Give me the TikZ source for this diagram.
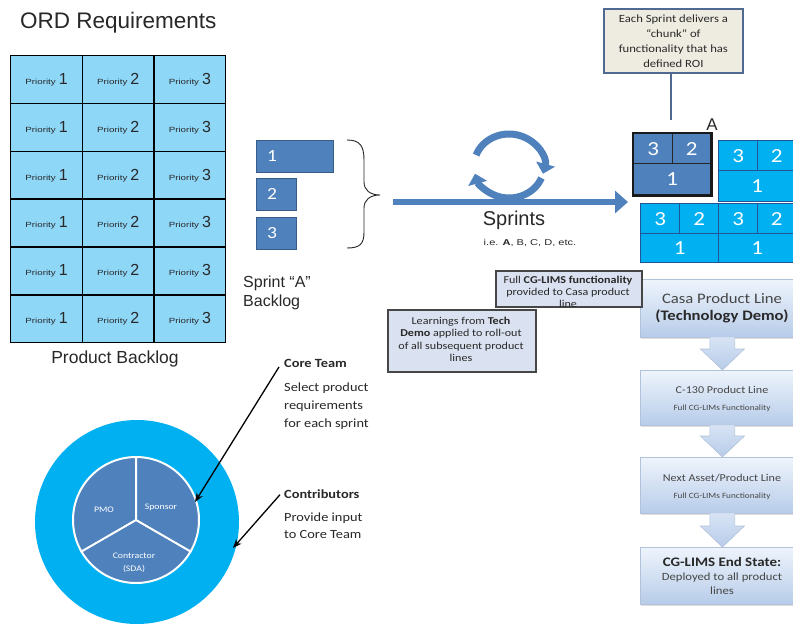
\documentclass[tikz,border=0pt]{standalone}
\usepackage{fontspec}
\setmainfont{Liberation Sans}
\newfontfamily\widesans[FakeStretch=1.3]{Liberation Sans}
\newfontfamily\cali[FakeStretch=1.15]{Carlito}
\usetikzlibrary{arrows.meta,calc,shadows,fit}
\definecolor{gridblue}{RGB}{142,215,247}
\definecolor{steel}{RGB}{79,129,189}
\definecolor{steeldark}{RGB}{56,93,138}
\definecolor{cyanblue}{RGB}{0,176,240}
\definecolor{cellline}{RGB}{35,85,150}
\definecolor{notebeige}{RGB}{238,236,225}
\definecolor{noteedge}{RGB}{80,105,145}
\definecolor{lavender}{RGB}{218,225,240}
\definecolor{boxedge}{RGB}{70,70,70}
\definecolor{flowtop}{RGB}{238,244,252}
\definecolor{flowbot}{RGB}{183,204,233}
\definecolor{flowedge}{RGB}{178,194,218}
\definecolor{inkgrey}{RGB}{40,40,40}
\definecolor{flowink}{RGB}{70,70,70}
\newcommand\prioritylabel[1]{{\widesans\fontsize{7.5}{9}\selectfont Priority}\hspace{3pt}{\fontsize{16}{18}\selectfont #1}}
\begin{document}
\begin{tikzpicture}[x=1pt,y=-1pt,
  txt/.style={inner sep=0pt, text=inkgrey},
  pcell/.style={draw=black, line width=1.4pt, fill=gridblue, anchor=north west,
    minimum width=71.67pt, minimum height=47.83pt, inner sep=0pt, text=inkgrey},
  blbox/.style={draw=steeldark, line width=0.8pt, fill=steel, anchor=north west,
    inner sep=0pt, minimum height=32pt},
  whitenum/.style={inner sep=0pt, text=white, font=\cali\fontsize{17}{17}\selectfont},
  darkcell/.style={draw=black!85, line width=1.2pt, fill=steel, anchor=north west,
    inner sep=0pt, text=white, font=\cali\fontsize{20}{20}\selectfont},
  cyancell/.style={draw=cellline, line width=1.2pt, fill=cyanblue, anchor=north west,
    inner sep=0pt, text=white, font=\cali\fontsize{20}{20}\selectfont},
  notebox/.style={draw=noteedge, line width=1.8pt, fill=notebeige, anchor=north west, inner sep=0pt},
  infobox/.style={draw=boxedge, line width=1.8pt, fill=lavender, anchor=north west, inner sep=0pt},
  infotxt/.style={inner sep=0pt, text=inkgrey, align=center, anchor=north,
    font=\cali\fontsize{10.5}{12}\selectfont},
  flowbox/.style={draw=flowedge, line width=0.8pt, top color=flowtop, bottom color=flowbot,
    anchor=north west, inner sep=0pt, minimum width=164pt,
    drop shadow={opacity=0.25, shadow xshift=1pt, shadow yshift=-2pt}},
  flowchev/.style={draw=flowedge, line width=0.6pt, top color=flowtop!60!flowbot, bottom color=flowbot},
  flowtxt/.style={inner sep=0pt, text=flowink, anchor=base},
  loopline/.style={draw=steel, line width=7pt, -{Triangle[width=19pt,length=10pt]}},
  mainarrow/.style={draw=steel, line width=6pt, -{Triangle[width=22pt,length=13pt]}},
  pointer/.style={draw=black, line width=1.3pt, -{Stealth[length=9pt,width=7pt]}},
  coretxt/.style={inner sep=0pt, text=inkgrey, anchor=base west, font=\cali\fontsize{12.5}{15}\selectfont},
  pietxt/.style={inner sep=0pt, text=white, font=\cali\fontsize{8.5}{10}\selectfont}
]
\clip (0,0) rectangle (793,627);
\fill[white] (0,0) rectangle (793,627);

% ---------- ORD requirements / product backlog grid ----------
\node[txt, anchor=base west, font=\fontsize{22.5}{26}\selectfont] (ordtitle) at (20,28) {ORD Requirements};
\foreach \r in {0,...,5}{
  \foreach \c/\d in {0/1,1/2,2/3}{
    \node[pcell] (p\r\c) at ({10+71.67*\c},{55+47.83*\r}) {\prioritylabel{\d}};
  }
}
\node[txt, anchor=base, font=\fontsize{17.5}{21}\selectfont] (pbtitle) at (115,363) {Product Backlog};

% ---------- sprint "A" backlog ----------
\node[blbox, minimum width=77pt] (bk1) at (256,140) {};
\node[blbox, minimum width=40pt] (bk2) at (256,178) {};
\node[blbox, minimum width=40pt] (bk3) at (256,217) {};
\node[whitenum] at ($(bk1.west)+(16,0)$) {1};
\node[whitenum] at ($(bk2.west)+(16,0)$) {2};
\node[whitenum] at ($(bk3.west)+(16,0)$) {3};
\draw[line width=0.9pt, black!85]
  (347,140) .. controls (360,140) and (364,146) .. (364,160) -- (364,182)
  .. controls (364,190) and (370,195) .. (380,195)
  .. controls (370,195) and (364,200) .. (364,208) -- (364,232)
  .. controls (364,244) and (360,248) .. (347,248);
\node[txt, anchor=base west, font=\fontsize{16}{20}\selectfont] (sabl1) at (243,287) {Sprint “A”};
\node[txt, anchor=base west, font=\fontsize{16}{20}\selectfont] (sabl2) at (243,306) {Backlog};

% ---------- sprint cycle and main flow ----------
\coordinate (loopc) at (509,166);
\coordinate (mainstart) at (393,202);
\coordinate (mainend) at (628,202);
\draw[loopline] ($(loopc)+(200:35 and 32)$) arc[start angle=200, end angle=374, x radius=35, y radius=32];
\draw[loopline] ($(loopc)+(22:35 and 32)$) arc[start angle=22, end angle=166, x radius=35, y radius=32];
\draw[mainarrow] (mainstart) -- (mainend);
\node[txt, anchor=base, font=\fontsize{20}{24}\selectfont] (sprints) at (514,225) {Sprints};
\node[txt, anchor=base, font=\widesans\fontsize{8.5}{10}\selectfont] (sprintlist) at (530,245) {i.e. \textbf{A}, B, C, D, etc.};

% ---------- delivered chunks ----------
\node[darkcell, minimum width=39pt, minimum height=30pt] (a3) at (633,133) {3};
\node[darkcell, minimum width=38pt, minimum height=30pt] (a2) at (672,133) {2};
\node[darkcell, minimum width=77pt, minimum height=31pt] (a1) at (633,163) {1};
\node[draw=black!90, line width=2.8pt, inner sep=0pt, fit=(a3)(a2)(a1)] (chunkA) {};
\node[txt, anchor=base, font=\fontsize{17}{20}\selectfont] (chunkAlabel) at (712,130) {A};

\node[cyancell, minimum width=39pt, minimum height=30pt] (b3) at (718,140) {3};
\node[cyancell, minimum width=38pt, minimum height=30pt] (b2) at (757,140) {2};
\node[cyancell, minimum width=77pt, minimum height=31pt] (b1) at (718,170) {1};
\node[cyancell, minimum width=39pt, minimum height=30pt] (c3) at (640,203) {3};
\node[cyancell, minimum width=39pt, minimum height=30pt] (c2) at (679,203) {2};
\node[cyancell, minimum width=39pt, minimum height=30pt] (d3) at (718,203) {3};
\node[cyancell, minimum width=38pt, minimum height=30pt] (d2) at (757,203) {2};
\node[cyancell, minimum width=78pt, minimum height=29pt] (c1) at (640,233) {1};
\node[cyancell, minimum width=77pt, minimum height=29pt] (d1) at (718,233) {1};

\node[notebox, minimum width=139pt, minimum height=64pt] (roi) at (603,8) {};
\node[inner sep=0pt, text=inkgrey, align=center, font=\cali\fontsize{11}{15}\selectfont] at (roi.center)
  {Each Sprint delivers a\\ “chunk” of\\ functionality that has\\ defined ROI};
\coordinate (roitip) at (671,120);
\draw[draw=noteedge, line width=1.6pt] (roi.south -| roitip) -- (roitip);

% ---------- product line roll-out ----------
\node[flowbox, minimum height=58pt] (casa) at (640,279) {};
\node[flowbox, minimum height=55pt] (c130) at (640,370) {};
\node[flowbox, minimum height=56pt] (nextline) at (640,457) {};
\node[flowbox, minimum height=57pt] (endstate) at (640,547) {};
\foreach \u/\v in {casa/c130, c130/nextline, nextline/endstate}{
  \draw[flowchev] ($(\u.south)+(-12.5,-1)$) -- ($(\v.north)+(-12.5,-21)$) -- ($(\v.north)+(-22,-21)$)
    -- (\v.north) -- ($(\v.north)+(22,-21)$) -- ($(\v.north)+(12.5,-21)$) -- ($(\u.south)+(12.5,-1)$) -- cycle;
}
\node[flowtxt, font=\cali\fontsize{14.5}{17}\selectfont] at (722,303) {Casa Product Line};
\node[flowtxt, font=\cali\bfseries\fontsize{14.5}{17}\selectfont, text=inkgrey] at (722,320) {(Technology Demo)};
\node[flowtxt, font=\cali\fontsize{10.5}{13}\selectfont] at (722,393) {C-130 Product Line};
\node[flowtxt, font=\cali\fontsize{8}{10}\selectfont] at (722,410) {Full CG-LIMs Functionality};
\node[flowtxt, font=\cali\fontsize{10.5}{13}\selectfont] at (722,481) {Next Asset/Product Line};
\node[flowtxt, font=\cali\fontsize{8}{10}\selectfont] at (722,498) {Full CG-LIMs Functionality};
\node[flowtxt, font=\cali\bfseries\fontsize{13}{15}\selectfont, text=inkgrey] at (722,566) {CG-LIMS End State:};
\node[flowtxt, font=\cali\fontsize{11}{14}\selectfont] at (722,580) {Deployed to all product};
\node[flowtxt, font=\cali\fontsize{11}{14}\selectfont] at (722,594) {lines};

\node[infobox, minimum width=146pt, minimum height=36pt] (casanote) at (495,270) {};
\node[infotxt] at (568,276) {Full \textbf{CG-LIMS functionality}\\ provided to Casa product\\ line};
\node[infobox, minimum width=148pt, minimum height=62pt] (demonote) at (387,309) {};
\node[infotxt, font=\cali\fontsize{10.5}{12.3}\selectfont] at (461,317) {Learnings from \textbf{Tech}\\ \textbf{Demo} applied to roll-out\\ of all subsequent product\\ lines};

% ---------- team circle ----------
\node[circle, fill=cyanblue, inner sep=0pt, minimum size=204pt] (contrib) at (137,522) {};
\node[circle, fill=steel, draw=white, line width=2pt, inner sep=0pt, minimum size=126pt] (core) at (136,520) {};
\draw[white, line width=2pt] (core.center) -- (core.90)
  (core.center) -- (core.210) (core.center) -- (core.330);
\node[pietxt] at (104,510) {PMO};
\node[pietxt] at (161,507) {Sponsor};
\node[pietxt, align=center, font=\cali\fontsize{8.5}{13}\selectfont] at (134,563) {Contractor\\(SDA)};

\node[coretxt, font=\cali\bfseries\fontsize{12.5}{15}\selectfont] (coreteam) at (284,367) {Core Team};
\node[coretxt] at (284,391) {Select product};
\node[coretxt] at (284,409) {requirements};
\node[coretxt] at (284,427) {for each sprint};
\node[coretxt, font=\cali\bfseries\fontsize{12.5}{15}\selectfont] (contributors) at (284,498) {Contributors};
\node[coretxt] at (284,521) {Provide input};
\node[coretxt] at (284,538) {to Core Team};
\coordinate (coretip) at (195,502);
\coordinate (contribtip) at (233,548);
\draw[pointer] ($(coreteam.west)+(-5,4)$) -- (coretip);
\draw[pointer] ($(contributors.west)+(-4,1)$) -- (contribtip);
\end{tikzpicture}
\end{document}
